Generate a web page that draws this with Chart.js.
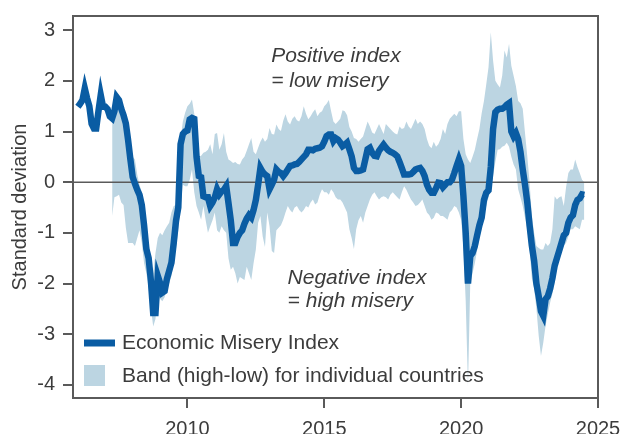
<!DOCTYPE html>
<html>
<head>
<meta charset="utf-8">
<script src="https://cdn.jsdelivr.net/npm/chart.js@4/dist/chart.umd.min.js"></script>
<style>
  html, body { margin: 0; padding: 0; background: #fff; }
  #wrap { width: 622px; height: 434px; }
</style>
</head>
<body>
<div id="wrap"><canvas id="chart" width="622" height="434"></canvas></div>
<script>
// monthly series, Jan 2006 .. Jul 2024
const startYear = 2006;

const miseryIndex = [
  1.49, 1.55, 1.62, 1.85, 1.66, 1.50, 1.15, 1.06, 1.06, 1.40, 1.72, 1.49,
  1.49, 1.44, 1.30, 1.26, 1.40, 1.68, 1.62, 1.45, 1.32, 1.16, 0.83, 0.45,
  0.10, -0.03, -0.15, -0.25, -0.45, -0.85, -1.32, -1.50, -1.95, -2.58, -2.58, -1.85,
  -1.99, -2.18, -2.15, -1.91, -1.75, -1.59, -1.20, -0.76, -0.50, 0.75, 0.95, 1.00,
  1.02, 1.24, 1.27, 1.25, 0.50, 0.12, 0.10, -0.28, -0.30, -0.30, -0.47, -0.40,
  -0.30, -0.14, -0.24, -0.18, -0.15, -0.08, -0.41, -0.75, -1.20, -1.20, -1.08, -1.00,
  -0.95, -0.82, -0.72, -0.65, -0.70, -0.55, -0.35, -0.05, 0.28, 0.20, 0.15, 0.12,
  -0.14, -0.05, 0.05, 0.25, 0.20, 0.18, 0.12, 0.18, 0.25, 0.32, 0.33, 0.35,
  0.36, 0.40, 0.45, 0.50, 0.55, 0.64, 0.64, 0.63, 0.66, 0.67, 0.68, 0.71,
  0.80, 0.91, 0.94, 0.94, 0.81, 0.87, 0.84, 0.78, 0.71, 0.74, 0.78, 0.65,
  0.51, 0.28, 0.22, 0.22, 0.23, 0.25, 0.45, 0.65, 0.68, 0.58, 0.52, 0.51,
  0.62, 0.68, 0.74, 0.68, 0.63, 0.60, 0.58, 0.55, 0.51, 0.40, 0.28, 0.15,
  0.15, 0.15, 0.16, 0.20, 0.25, 0.27, 0.28, 0.22, 0.12, -0.05, -0.15, -0.21,
  -0.21, -0.12, -0.01, -0.02, -0.10, -0.05, 0.00, 0.00, 0.05, 0.18, 0.32, 0.45,
  0.32, -0.28, -1.00, -2.00, -1.46, -1.40, -1.26, -1.05, -0.85, -0.70, -0.35, -0.21,
  -0.16, 0.30, 1.05, 1.38, 1.43, 1.45, 1.45, 1.48, 1.53, 1.56, 1.00, 0.90,
  0.97, 0.85, 0.60, 0.25, -0.05, -0.40, -0.85, -1.25, -1.55, -2.00, -2.25, -2.55,
  -2.64, -2.31, -2.25, -2.10, -1.90, -1.65, -1.50, -1.35, -1.20, -1.05, -1.00, -0.80,
  -0.70, -0.65, -0.45, -0.35, -0.32, -0.24, -0.25
];

// country band starts Apr 2007 (15 months after Jan 2006)
const bandStart = 15;

const bandHigh = [
  1.30, 1.68, 1.72, 1.65, 1.50, 1.40, 1.25, 1.00, 0.70,
  0.50, 0.45, 0.15, -0.05, -0.20, -0.75, -1.05, -1.20, -1.60, -1.80, -1.40, -1.10,
  -1.00, -1.05, -0.95, -0.87, -0.80, -0.60, -0.47, -0.45, 0.30, 0.85, 1.20, 1.37,
  1.50, 1.55, 1.63, 1.35, 0.70, 0.50, 0.52, 0.58, 0.60, 0.64, 0.75, 0.55,
  0.95, 0.97, 0.64, 0.75, 0.97, 0.60, 0.45, 0.42, 0.38, 0.40, 0.36, 0.35,
  0.45, 0.50, 0.62, 0.75, 0.87, 0.60, 0.55, 0.68, 0.80, 0.88, 0.80, 0.85,
  1.07, 0.95, 0.94, 1.14, 1.05, 1.01, 1.21, 1.34, 1.20, 1.14, 1.25, 1.30,
  1.22, 1.20, 1.30, 1.50, 1.35, 1.24, 1.30, 1.38, 1.44, 1.30, 1.37, 1.40,
  1.50, 1.55, 1.62, 1.40, 1.20, 1.15, 1.20, 1.25, 1.42, 1.40, 1.32, 1.09,
  1.00, 0.87, 0.85, 0.80, 0.85, 0.90, 1.05, 1.20, 1.10, 0.98, 0.95, 1.05,
  1.15, 1.05, 0.95, 1.15, 1.10, 1.05, 1.00, 0.96, 0.94, 1.10, 1.05, 1.07,
  1.20, 1.10, 1.05, 1.15, 1.25, 1.15, 1.20, 1.15, 1.05, 0.85, 0.72, 0.67,
  0.80, 0.70, 0.75, 0.85, 1.05, 0.95, 1.15, 1.25, 1.30, 1.35, 1.30, 1.40,
  1.40, 0.85, 0.55, 0.45, 0.38, 0.50, 0.64, 0.85, 1.05, 1.36, 1.60, 1.93,
  2.27, 2.96, 2.40, 2.00, 1.93, 1.87, 2.10, 2.60, 2.46, 2.73, 2.30, 2.10,
  1.90, 1.60, 1.56, 1.45, 0.97, 0.51, 0.00, -0.67, -1.00, -1.26, -1.30, -1.33,
  -1.33, -1.20, -1.26, -1.20, -0.93, -0.28, -0.34, -0.30, -0.28, -0.47, -0.10, 0.18,
  0.25, 0.25, 0.45, 0.30, 0.18, 0.05, 0.00
];

const bandLow = [
  -0.67, -0.30, -0.28, -0.25, -0.40, -0.45, -0.90, -1.20, -1.20,
  -1.20, -1.26, -1.10, -0.95, -1.20, -1.60, -1.80, -2.10, -2.50, -2.85, -2.70, -2.25,
  -2.30, -2.35, -2.27, -2.10, -2.00, -1.85, -1.55, -1.30, -0.95, -0.50, -0.05, -0.08,
  -0.08, 0.05, 0.25, -0.20, -0.47, -0.60, -0.74, -0.47, -0.75, -1.00, -0.87, -0.75,
  -0.60, -0.95, -1.00, -0.87, -0.95, -1.00, -1.50, -1.73, -1.67, -1.80, -2.00, -1.87,
  -1.90, -1.93, -1.67, -1.80, -1.93, -1.60, -1.33, -0.80, -0.67, -1.07, -1.28, -0.60,
  -0.87, -1.36, -1.40, -0.95, -0.90, -0.85, -0.74, -0.60, -0.47, -0.55, -0.60, -0.50,
  -0.47, -0.55, -0.60, -0.55, -0.47, -0.50, -0.40, -0.34, -0.44, -0.40, -0.25, -0.14,
  -0.20, -0.20, -0.25, -0.14, -0.20, -0.30, -0.34, -0.34, -0.40, -0.50, -0.60, -0.93,
  -1.10, -1.32, -0.93, -0.75, -0.67, -0.80, -0.60, -0.47, -0.34, -0.25, -0.20, -0.28,
  -0.34, -0.30, -0.28, -0.30, -0.34, -0.25, -0.20, -0.25, -0.30, -0.34, -0.20, -0.08,
  -0.15, -0.25, -0.34, -0.40, -0.47, -0.45, -0.40, -0.34, -0.47, -0.60, -0.65, -0.74,
  -0.70, -0.60, -0.62, -0.67, -0.67, -0.70, -0.74, -0.60, -0.55, -0.47, -0.50, -0.60,
  -0.74, -1.30, -2.35, -4.03, -1.99, -1.80, -1.60, -1.35, -1.10, -0.90, -0.60, -0.47,
  -0.30, -0.14, 0.12, 0.40, 0.64, 0.65, 0.70, 0.72, 0.78, 0.70, 0.50, 0.35,
  0.25, -0.14, -0.30, -0.47, -0.70, -0.93, -1.33, -1.90, -2.10, -2.50, -3.03, -3.43,
  -3.17, -2.84, -2.60, -2.38, -2.20, -1.99, -1.60, -1.45, -1.33, -1.25, -1.20, -1.07,
  -0.93, -0.93, -0.87, -0.90, -0.93, -0.74, -0.74
];

const xTicks = [2010, 2015, 2020, 2025];
const yTicks = [-4, -3, -2, -1, 0, 1, 2, 3];

const lineColor = '#0a5ca3';
const bandColor = '#bcd5e2';
const axisColor = '#5a5a5a';
const textColor = '#3c3c3c';
const font = "'Liberation Sans', Arial, sans-serif";

const monthX = i => startYear + i / 12;
const linePts = miseryIndex.map((v, i) => ({ x: monthX(i), y: v }));
const highPts = bandHigh.map((v, i) => ({ x: monthX(i + bandStart), y: v }));
const lowPts = bandLow.map((v, i) => ({ x: monthX(i + bandStart), y: v }));

const extras = {
  id: 'extras',
  afterDatasetDraw(chart, args) {
    if (args.index !== 2) return;
    // zero line sits over the band but under the index line
    const { ctx, chartArea } = chart;
    const y0 = chart.scales.y.getPixelForValue(0);
    ctx.save();
    ctx.strokeStyle = axisColor;
    ctx.lineWidth = 1.5;
    ctx.beginPath();
    ctx.moveTo(chartArea.left, y0);
    ctx.lineTo(chartArea.right, y0);
    ctx.stroke();
    ctx.restore();
  },
  afterDraw(chart) {
    const { ctx, chartArea: a } = chart;
    const xs = chart.scales.x, ys = chart.scales.y;
    ctx.save();
    // top and right frame
    ctx.strokeStyle = axisColor;
    ctx.lineWidth = 2;
    ctx.beginPath();
    ctx.moveTo(a.left, a.top);
    ctx.lineTo(a.right, a.top);
    ctx.lineTo(a.right, a.bottom);
    ctx.stroke();

    // notes
    ctx.fillStyle = textColor;
    ctx.font = 'italic 21px ' + font;
    ctx.textAlign = 'left';
    ctx.textBaseline = 'alphabetic';
    ctx.fillText('Positive index', xs.getPixelForValue(2013.06), ys.getPixelForValue(2.37));
    ctx.fillText('= low misery', xs.getPixelForValue(2013.06), ys.getPixelForValue(1.88));
    ctx.fillText('Negative index', xs.getPixelForValue(2013.66), ys.getPixelForValue(-2.01));
    ctx.fillText('= high misery', xs.getPixelForValue(2013.66), ys.getPixelForValue(-2.47));

    // legend
    const lx = a.left + 11;
    ctx.strokeStyle = lineColor;
    ctx.lineWidth = 7;
    ctx.beginPath();
    ctx.moveTo(lx, a.bottom - 55);
    ctx.lineTo(lx + 31, a.bottom - 55);
    ctx.stroke();
    ctx.fillStyle = bandColor;
    ctx.fillRect(lx, a.bottom - 33, 21, 21);
    ctx.fillStyle = textColor;
    ctx.font = '21px ' + font;
    ctx.textBaseline = 'middle';
    ctx.fillText('Economic Misery Index', lx + 38, a.bottom - 55);
    ctx.fillText('Band (high-low) for individual countries', lx + 38, a.bottom - 22);
    ctx.restore();
  }
};

new Chart(document.getElementById('chart'), {
  type: 'line',
  data: {
    datasets: [
      {
        label: 'Economic Misery Index',
        data: linePts,
        borderColor: lineColor,
        borderWidth: 6.5,
        borderJoinStyle: 'miter',
        pointRadius: 0,
        tension: 0,
        fill: false,
        order: 0
      },
      {
        label: 'Band high',
        data: highPts,
        borderWidth: 0,
        borderColor: bandColor,
        backgroundColor: bandColor,
        pointRadius: 0,
        tension: 0,
        fill: '+1',
        order: 2
      },
      {
        label: 'Band low',
        data: lowPts,
        borderWidth: 0,
        borderColor: bandColor,
        pointRadius: 0,
        tension: 0,
        fill: false,
        order: 1
      }
    ]
  },
  options: {
    responsive: false,
    animation: false,
    layout: { padding: { top: 16, right: 24, left: 0, bottom: 0 } },
    plugins: {
      legend: { display: false },
      tooltip: { enabled: false }
    },
    scales: {
      x: {
        type: 'linear',
        min: 2005.82,
        max: 2025.0,
        afterFit: s => { s.height = 36; s.paddingLeft = 0; s.paddingRight = 0; },
        afterBuildTicks: s => { s.ticks = xTicks.map(v => ({ value: v })); },
        border: { display: true, color: axisColor, width: 2 },
        grid: { drawOnChartArea: false, drawTicks: true, tickLength: 10, color: axisColor, lineWidth: 2 },
        ticks: {
          color: textColor,
          font: { family: font, size: 20 },
          padding: 9,
          maxRotation: 0,
          callback: v => String(v)
        }
      },
      y: {
        min: -4.26,
        max: 3.28,
        afterFit: s => { s.width = 73; s.paddingTop = 0; s.paddingBottom = 0; },
        afterBuildTicks: s => { s.ticks = yTicks.map(v => ({ value: v })); },
        border: { display: true, color: axisColor, width: 2 },
        grid: { drawOnChartArea: false, drawTicks: true, tickLength: 10, color: axisColor, lineWidth: 2 },
        ticks: {
          color: textColor,
          font: { family: font, size: 20 },
          padding: 8,
          callback: v => String(v)
        },
        title: {
          display: true,
          text: 'Standard deviation',
          color: textColor,
          font: { family: font, size: 20 },
          padding: { top: 8, bottom: 0 }
        }
      }
    }
  },
  plugins: [extras]
});
</script>
</body>
</html>
